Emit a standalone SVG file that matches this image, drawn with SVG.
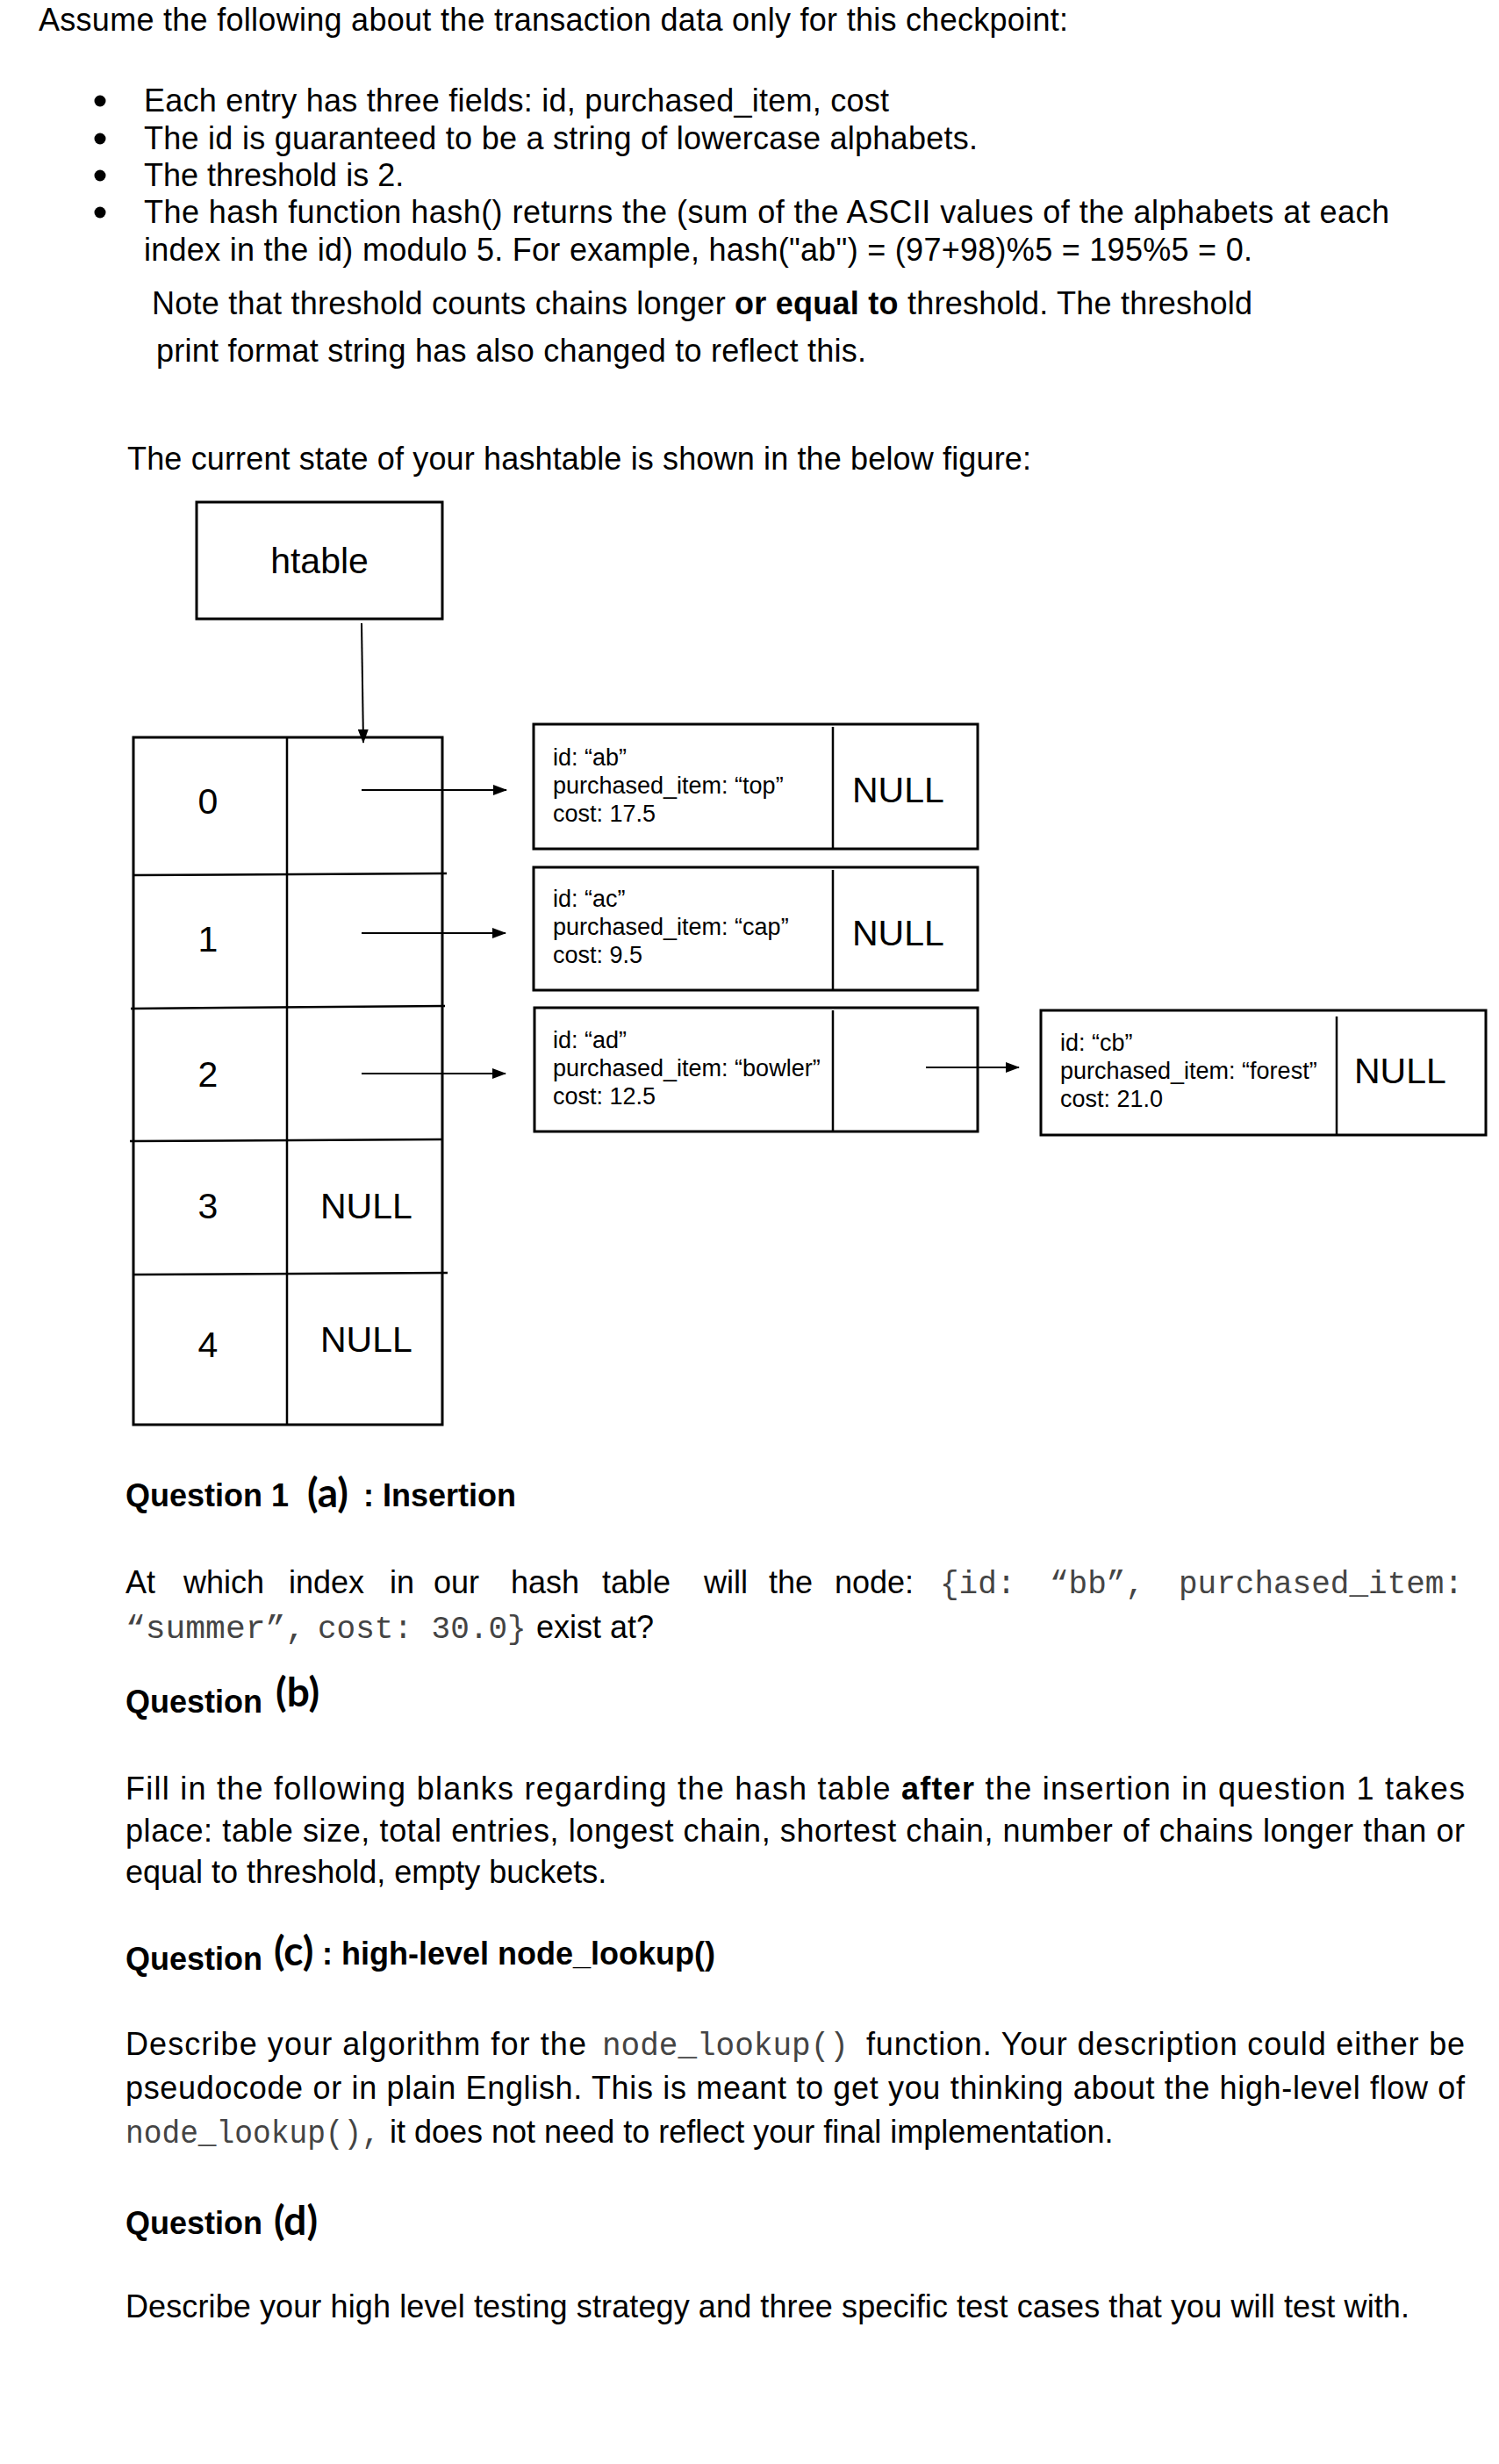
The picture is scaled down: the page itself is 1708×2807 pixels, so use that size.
<svg xmlns="http://www.w3.org/2000/svg" width="1708" height="2807" viewBox="0 0 1708 2807">
<style>
text{font-family:"Liberation Sans",Arial,sans-serif;fill:#000}
.body{font-size:36px}
.b{font-weight:bold}
.mono{font-family:"Liberation Mono","Courier New",monospace;font-size:36px;fill:#444}
.qh{font-size:36px;font-weight:bold}
.par{font-family:Lato,"Liberation Sans",sans-serif;font-size:46px;font-weight:bold}
.big{font-size:41px}
.nt{font-size:27px}
.box{fill:#fff;stroke:#000;stroke-width:3}
.ln{stroke:#000;stroke-width:2.5;fill:none}
.arr{stroke:#000;stroke-width:2;fill:none;marker-end:url(#ah)}
</style>
<defs>
<marker id="ah" markerUnits="userSpaceOnUse" markerWidth="16" markerHeight="12" refX="15" refY="6" orient="auto">
<path d="M0,0 L16,6 L0,12 Z" fill="#000"/>
</marker>
</defs>
<rect width="1708" height="2807" fill="#fff"/>

<text class="body" x="44" y="35" textLength="1173" lengthAdjust="spacing">Assume the following about the transaction data only for this checkpoint:</text>

<g id="bullets">
<circle cx="114" cy="115" r="6.5"/>
<circle cx="114" cy="158" r="6.5"/>
<circle cx="114" cy="200" r="6.5"/>
<circle cx="114" cy="242" r="6.5"/>
</g>
<text class="body" x="164" y="127" textLength="849" lengthAdjust="spacing">Each entry has three fields: id, purchased_item, cost</text>
<text class="body" x="164" y="170" textLength="950" lengthAdjust="spacing">The id is guaranteed to be a string of lowercase alphabets.</text>
<text class="body" x="164" y="212">The threshold is 2.</text>
<text class="body" x="164" y="254" textLength="1419" lengthAdjust="spacing">The hash function hash() returns the (sum of the ASCII values of the alphabets at each</text>
<text class="body" x="164" y="297" textLength="1263" lengthAdjust="spacing">index in the id) modulo 5. For example, hash("ab") = (97+98)%5 = 195%5 = 0.</text>
<text class="body" x="173" y="358" textLength="1254" lengthAdjust="spacing">Note that threshold counts chains longer <tspan class="b">or equal to</tspan> threshold. The threshold</text>
<text class="body" x="178" y="412" textLength="809" lengthAdjust="spacing">print format string has also changed to reflect this.</text>
<text class="body" x="145" y="535" textLength="1030" lengthAdjust="spacing">The current state of your hashtable is shown in the below figure:</text>

<g id="htable">
<rect class="box" x="224" y="572" width="280" height="133"/>
<text class="big" x="364" y="653" text-anchor="middle">htable</text>
</g>

<g id="buckets">
<rect class="box" x="152" y="840" width="352" height="783"/>
<line class="ln" x1="327" y1="840" x2="327" y2="1623"/>
<line class="ln" x1="152" y1="997" x2="509" y2="995"/>
<line class="ln" x1="149" y1="1149" x2="507" y2="1146"/>
<line class="ln" x1="148" y1="1300" x2="504" y2="1298"/>
<line class="ln" x1="152" y1="1452" x2="510" y2="1450"/>
<text class="big" x="237" y="927" text-anchor="middle">0</text>
<text class="big" x="237" y="1084" text-anchor="middle">1</text>
<text class="big" x="237" y="1238" text-anchor="middle">2</text>
<text class="big" x="237" y="1388" text-anchor="middle">3</text>
<text class="big" x="237" y="1546" text-anchor="middle">4</text>
<text class="big" x="365" y="1388">NULL</text>
<text class="big" x="365" y="1540">NULL</text>
</g>

<g id="node-ab">
<rect class="box" x="608" y="825" width="506" height="142"/>
<line class="ln" x1="949" y1="828" x2="949" y2="967"/>
<text class="nt" x="630" y="872">id: “ab”</text>
<text class="nt" x="630" y="904">purchased_item: “top”</text>
<text class="nt" x="630" y="936">cost: 17.5</text>
<text class="big" x="971" y="914">NULL</text>
</g>

<g id="node-ac">
<rect class="box" x="608" y="988" width="506" height="140"/>
<line class="ln" x1="949" y1="991" x2="949" y2="1128"/>
<text class="nt" x="630" y="1033">id: “ac”</text>
<text class="nt" x="630" y="1065">purchased_item: “cap”</text>
<text class="nt" x="630" y="1097">cost: 9.5</text>
<text class="big" x="971" y="1077">NULL</text>
</g>

<g id="node-ad">
<rect class="box" x="609" y="1148" width="505" height="141"/>
<line class="ln" x1="949" y1="1151" x2="949" y2="1289"/>
<text class="nt" x="630" y="1194">id: “ad”</text>
<text class="nt" x="630" y="1226">purchased_item: “bowler”</text>
<text class="nt" x="630" y="1258">cost: 12.5</text>
</g>

<g id="node-cb">
<rect class="box" x="1186" y="1151" width="507" height="142"/>
<line class="ln" x1="1523" y1="1158" x2="1523" y2="1293"/>
<text class="nt" x="1208" y="1197">id: “cb”</text>
<text class="nt" x="1208" y="1229">purchased_item: “forest”</text>
<text class="nt" x="1208" y="1261">cost: 21.0</text>
<text class="big" x="1543" y="1234">NULL</text>
</g>

<g id="connectors">
<line class="arr" x1="412" y1="710" x2="414" y2="846"/>
<line class="arr" x1="412" y1="900" x2="577" y2="900"/>
<line class="arr" x1="412" y1="1063" x2="576" y2="1063" stroke-width="1.5"/>
<line class="arr" x1="412" y1="1223" x2="576" y2="1223"/>
<line class="arr" x1="1055" y1="1216" x2="1161" y2="1216"/>
</g>

<g id="questions">
<text class="qh" x="143" y="1716">Question 1</text>
<text class="par" x="350" y="1717">(a)</text>
<text class="qh" x="414" y="1716">: Insertion</text>

<text class="body" y="1815"><tspan x="143">At</tspan><tspan x="209">which</tspan><tspan x="329">index</tspan><tspan x="444">in</tspan><tspan x="494">our</tspan><tspan x="582">hash</tspan><tspan x="686">table</tspan><tspan x="802">will</tspan><tspan x="876">the</tspan><tspan x="951">node:</tspan><tspan class="mono" x="1071">{id:</tspan><tspan class="mono" x="1196">“bb”,</tspan><tspan class="mono" x="1343">purchased_item:</tspan></text>
<text class="body" y="1866"><tspan class="mono" x="143" textLength="205" lengthAdjust="spacingAndGlyphs">“summer”,</tspan><tspan class="mono" x="362">cost: 30.0}</tspan><tspan x="611">exist at?</tspan></text>

<text class="qh" x="143" y="1951">Question</text>
<text class="par" x="314" y="1944">(b)</text>

<text class="body" x="143" y="2050" textLength="1526" lengthAdjust="spacing">Fill in the following blanks regarding the hash table <tspan class="b">after</tspan> the insertion in question 1 takes</text>
<text class="body" x="143" y="2098" textLength="1526" lengthAdjust="spacing">place: table size, total entries, longest chain, shortest chain, number of chains longer than or</text>
<text class="body" x="143" y="2145">equal to threshold, empty buckets.</text>

<text class="qh" x="143" y="2244">Question</text>
<text class="par" x="312" y="2239">(c)</text>
<text class="qh" x="367" y="2238">: high-level node_lookup()</text>

<text class="body" x="143" y="2341" textLength="525" lengthAdjust="spacing">Describe your algorithm for the</text>
<text class="mono" x="686" y="2341">node_lookup()</text>
<text class="body" x="987" y="2341" textLength="682" lengthAdjust="spacing">function. Your description could either be</text>
<text class="body" x="143" y="2391" textLength="1526" lengthAdjust="spacing">pseudocode or in plain English. This is meant to get you thinking about the high-level flow of</text>
<text class="body" y="2441"><tspan class="mono" x="143" textLength="290" lengthAdjust="spacingAndGlyphs">node_lookup(),</tspan><tspan x="444">it does not need to reflect your final implementation.</tspan></text>

<text class="qh" x="143" y="2545">Question</text>
<text class="par" x="312" y="2546">(d)</text>

<text class="body" x="143" y="2640" textLength="1463" lengthAdjust="spacing">Describe your high level testing strategy and three specific test cases that you will test with.</text>
</g>
</svg>
